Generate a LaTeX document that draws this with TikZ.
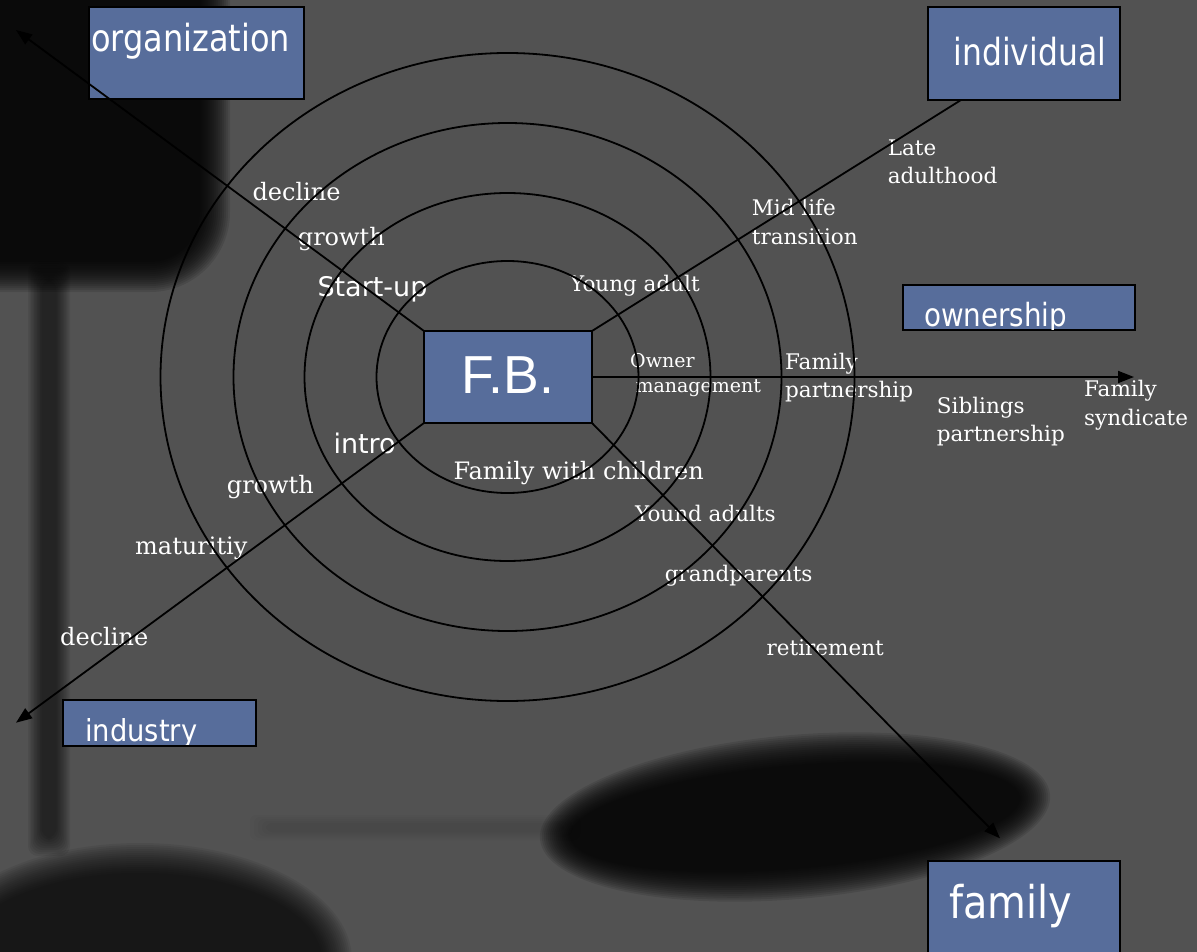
\documentclass[tikz,border=0pt]{standalone}
\usepackage{graphicx}
\usepackage{fontspec}
\setmainfont{DejaVu Serif}
\setsansfont{DejaVu Sans}
\newfontfamily\headfont{Liberation Sans}
\usetikzlibrary{arrows.meta}

\definecolor{bggray}{HTML}{525252}
\definecolor{boxblue}{HTML}{576D9B}

% squeeze a box caption to a given width and cap height (in pt)
\newcommand\squeeze[3]{\resizebox{#1pt}{#2pt}{\sffamily\fontsize{30}{34}\selectfont #3}}

\tikzset{
  box/.style={fill=boxblue, draw=black, line width=2pt, inner sep=0pt, outer sep=0pt, anchor=north west},
  ring/.style={draw=black, line width=1.8pt},
  axis/.style={draw=black, line width=1.8pt},
  axisarrow/.style={axis, -{Triangle[length=16pt,width=12pt]}},
  lbl/.style={text=white, inner sep=0pt, anchor=base west, font=\fontsize{21.5}{24}\selectfont},
  lblsmall/.style={lbl, font=\fontsize{19}{22}\selectfont},
  lblbig/.style={lbl, font=\fontsize{24}{27}\selectfont},
  lblsans/.style={lbl, font=\sffamily\fontsize{27}{30}\selectfont},
  boxtext/.style={text=white, inner sep=0pt, anchor=base west},
  haze/.style={black, opacity=#1},
}

\begin{document}
\begin{tikzpicture}[x=1pt, y=-1pt]
\useasboundingbox (0,0) rectangle (1197,952);
\clip (0,0) rectangle (1197,952);

% backdrop
\fill[bggray] (0,0) rectangle (1197,952);

% soft lamp shadows: each is a stack of shrinking translucent fills
% shade of the lamp head, top left
\foreach \k [evaluate=\k as \r using 80-2*\k] in {0,...,15}
  \fill[haze=0.105, rounded corners=\r pt] ({-100+2*\k},{-100+2*\k}) rectangle ({230-2*\k},{292-2*\k});
% the stem
\foreach \k in {0,...,9}
  \fill[haze=0.07, rounded corners=10pt] ({28+1.5*\k},{262+2*\k}) rectangle ({70-1.5*\k},{856-2*\k});
% the thin arm along the floor
\foreach \k in {0,...,4}
  \fill[haze=0.022, rounded corners=6pt] ({250+4*\k},{815+2*\k}) rectangle ({580-4*\k},{840-2*\k});
% the foot
\foreach \k in {0,...,15}
  \fill[haze=0.1, rotate around={5:(795,817)}] (795,817) ellipse [x radius={256-2*\k}, y radius={82-2*\k}];
% blot at the lower left
\foreach \k in {0,...,15}
  \fill[haze=0.068] (140,960) ellipse [x radius={212-2*\k}, y radius={117-2*\k}];

% stage labels
\node[lblbig] (o1) at (252.3,201) {decline};
\node[lblbig] (o2) at (297.7,246) {growth};
\node[lblsans] (o3) at (317.3,296) {Start-up};

\node[lbl] (p1) at (570,291) {Young adult};
\node[lbl] (p2a) at (751.7,215.7) {Mid life};
\node[lbl] (p2b) at (751.7,244) {transition};
\node[lbl] (p3a) at (887.7,155.7) {Late};
\node[lbl] (p3b) at (887.7,183.3) {adulthood};

\node[lblsmall] (w1a) at (630,367.3) {Owner};
\node[lblsmall] (w1b) at (635.3,392.7) {management};
\node[lbl] (w2a) at (785,369.3) {Family};
\node[lbl] (w2b) at (785,397.7) {partnership};
\node[lbl] (w3a) at (936.7,413.3) {Siblings};
\node[lbl] (w3b) at (936.7,441) {partnership};
\node[lbl] (w4a) at (1084,396.7) {Family};
\node[lbl] (w4b) at (1084,425) {syndicate};

\node[lblsans] (i1) at (333.3,453.3) {intro};
\node[lblbig] (i2) at (226.7,493.3) {growth};
\node[lblbig] (i3) at (135,554) {maturitiy};
\node[lblbig] (i4) at (60,645) {decline};

\node[lblbig] (f1) at (453.3,479.3) {Family with children};
\node[lbl] (f2) at (635,521.7) {Yound adults};
\node[lbl] (f3) at (664.7,581.7) {grandparents};
\node[lbl] (f4) at (766.4,655) {retirement};

% concentric stage rings
\coordinate (ctr) at (507.5,377);
\draw[ring] (ctr) ellipse [x radius=131, y radius=116];
\draw[ring] (ctr) ellipse [x radius=203, y radius=184];
\draw[ring] (ctr) ellipse [x radius=274, y radius=254];
\draw[ring] (ctr) ellipse [x radius=347, y radius=324];

% dimension boxes
\node[box, minimum width=168pt, minimum height=92pt] (fb) at (424,331) {};
\node[box, minimum width=215.3pt, minimum height=92pt] (org) at (88.7,7.3) {};
\node[box, minimum width=192.3pt, minimum height=92.7pt] (ind) at (927.7,7.3) {};
\node[box, minimum width=232.3pt, minimum height=45pt] (own) at (902.7,285) {};
\node[box, minimum width=192.7pt, minimum height=45.7pt] (indy) at (63.3,700) {};
\node[box, minimum width=191.7pt, minimum height=110pt] (fam) at (928.3,861) {};

% axes from the centre box
\coordinate (orgtip) at (16,30);
\coordinate (indfoot) at (961,100);
\coordinate (owntip) at (1134,377);
\coordinate (indytip) at (16,722.7);
\coordinate (famtip) at (1000,838.3);
\draw[axisarrow] (fb.north west) -- (orgtip);
\draw[axis] (fb.north east) -- (indfoot);
\draw[axisarrow] (fb.east) -- (owntip);
\draw[axisarrow] (fb.south west) -- (indytip);
\draw[axisarrow] (fb.south east) -- (famtip);

% box captions, kept inside their frames
\node[boxtext, font=\headfont\fontsize{53.5}{60}\selectfont] (fbtxt) at (461.5,393.3) {F.B.};
\begin{scope}
  \clip ([shift={(1,1)}]org.north west) rectangle ([shift={(-1,-1)}]org.south east);
  \node[boxtext] (orgtxt) at (91,51.7) {\squeeze{199}{28.4}{organization}};
\end{scope}
\begin{scope}
  \clip ([shift={(1,1)}]ind.north west) rectangle ([shift={(-1,-1)}]ind.south east);
  \node[boxtext] (indtxt) at (953.3,65.7) {\squeeze{152.4}{28.4}{individual}};
\end{scope}
\begin{scope}
  \clip ([shift={(1,1)}]own.north west) rectangle ([shift={(-1,-1)}]own.south east);
  \node[boxtext] (owntxt) at (924,326) {\squeeze{143}{24.3}{ownership}};
\end{scope}
\begin{scope}
  \clip ([shift={(1,1)}]indy.north west) rectangle ([shift={(-1,-1)}]indy.south east);
  \node[boxtext] (indytxt) at (85,741) {\squeeze{112}{23}{industry}};
\end{scope}
\begin{scope}
  \clip ([shift={(1,1)}]fam.north west) rectangle ([shift={(-1,-1)}]fam.south east);
  \node[boxtext] (famtxt) at (949.2,918.3) {\squeeze{123}{34.3}{family}};
\end{scope}
\end{tikzpicture}
\end{document}
